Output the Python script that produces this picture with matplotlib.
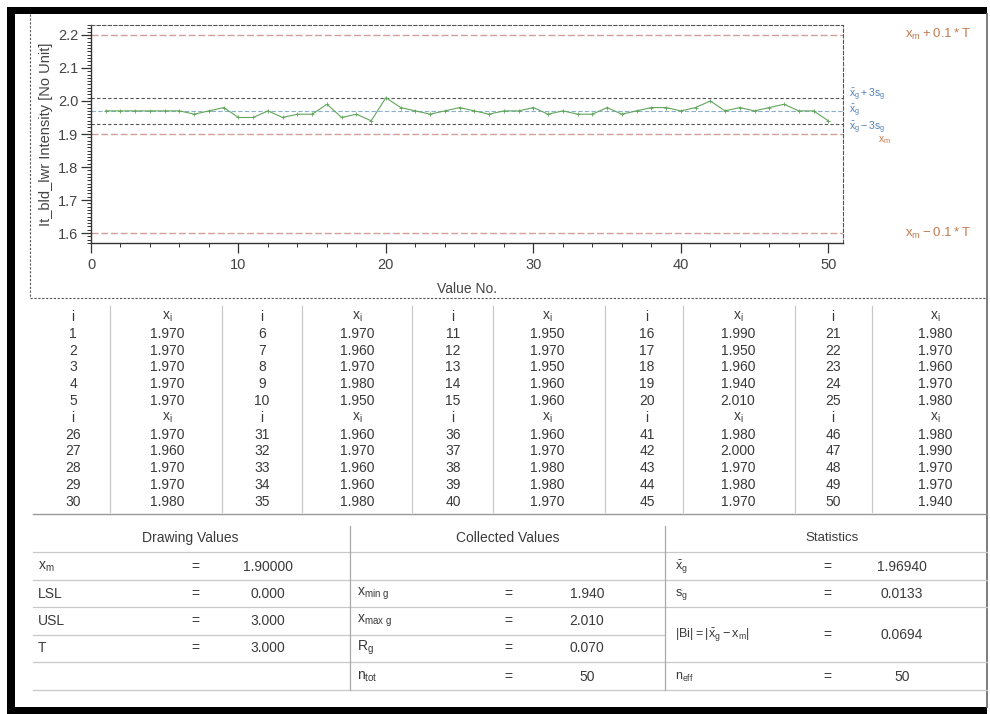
import numpy as np
import matplotlib.pyplot as plt
from matplotlib.patches import Rectangle
from matplotlib.ticker import MultipleLocator, FormatStrFormatter

plt.rcParams['font.family'] = ['Liberation Sans', 'DejaVu Sans']

# measured values, i = 1..50
values = [1.970, 1.970, 1.970, 1.970, 1.970,
          1.970, 1.960, 1.970, 1.980, 1.950,
          1.950, 1.970, 1.950, 1.960, 1.960,
          1.990, 1.950, 1.960, 1.940, 2.010,
          1.980, 1.970, 1.960, 1.970, 1.980,
          1.970, 1.960, 1.970, 1.970, 1.980,
          1.960, 1.970, 1.960, 1.960, 1.980,
          1.960, 1.970, 1.980, 1.980, 1.970,
          1.980, 2.000, 1.970, 1.980, 1.970,
          1.980, 1.990, 1.970, 1.970, 1.940]
value_no = np.arange(1, len(values) + 1)

# drawing values
xm = 1.9
lsl = 0.0
usl = 3.0
tol = 3.0

arr = np.array(values)
mean = arr.mean()
sd = arr.std(ddof=1)
ucl = mean + 3 * sd
lcl = mean - 3 * sd

W, H = 990, 714
fig = plt.figure(figsize=(W / 100, H / 100), dpi=100)

# overlay in pixel coordinates for frame + tables
ov = fig.add_axes([0, 0, 1, 1])
ov.set_xlim(0, W)
ov.set_ylim(H, 0)
ov.axis('off')


def px_rect(l, t, r, b):
    return [l / W, 1 - b / H, (r - l) / W, (b - t) / H]


ax = fig.add_axes(px_rect(91, 25, 843, 243))
ax.patch.set_alpha(0)

# limit lines
for y in [xm + 0.1 * tol, xm, xm - 0.1 * tol]:
    ax.axhline(y, color='#d0a09a', ls=(0, (5, 2)), lw=1.0)
for y in [ucl, lcl]:
    ax.axhline(y, color='#555555', ls=(0, (3, 2)), lw=0.8)
ax.axhline(mean, color='#8ab0cf', ls=(0, (4, 2)), lw=0.8)

ax.plot(value_no, values, color='#62a65c', lw=0.8, marker='+', ms=3, mew=0.6)

ax.set_xlim(0, 51)
ax.set_ylim(1.57, 2.23)
ax.xaxis.set_major_locator(MultipleLocator(10))
ax.xaxis.set_minor_locator(MultipleLocator(2))
ax.yaxis.set_major_locator(MultipleLocator(0.1))
ax.yaxis.set_minor_locator(MultipleLocator(0.01))
ax.yaxis.set_major_formatter(FormatStrFormatter('%.1f'))
ax.tick_params(which='major', direction='out', length=7, width=0.9,
               labelsize=10.5, labelcolor='#444444', color='#333333')
ax.tick_params(axis='x', which='major', pad=4)
ax.tick_params(axis='y', which='major', pad=2)
ax.tick_params(which='minor', direction='out', length=3, width=0.7, color='#333333')

for s in ['top', 'right']:
    ax.spines[s].set_linestyle((0, (3, 2)))
    ax.spines[s].set_color('#555555')
    ax.spines[s].set_linewidth(0.8)
for s in ['left', 'bottom']:
    ax.spines[s].set_color('#333333')
    ax.spines[s].set_linewidth(1.0)

ax.set_xlabel('Value No.', fontsize=10, color='#444444', labelpad=7)
ax.set_ylabel('It_bld_lwr Intensity [No Unit]', fontsize=10.5, color='#444444', labelpad=4)

blue = '#4f7fb5'
orange = '#c47a4e'
ax.text(51.4, ucl + 0.01, r'$\mathregular{\bar{x}_g+3s_g}$', color=blue, fontsize=7.5,
        va='center', clip_on=False)
ax.text(51.4, mean, r'$\mathregular{\bar{x}_g}$', color=blue, fontsize=7.5,
        va='center', clip_on=False)
ax.text(51.4, lcl - 0.01, r'$\mathregular{\bar{x}_g-3s_g}$', color=blue, fontsize=7.5,
        va='center', clip_on=False)
ax.text(53.4, xm - 0.018, r'$\mathregular{x_m}$', color=orange, fontsize=7.5,
        va='center', clip_on=False)
ax.text(55.2, xm + 0.1 * tol, r'$\mathregular{x_m + 0.1*T}$', color=orange, fontsize=9.5,
        va='center', clip_on=False)
ax.text(55.2, xm - 0.1 * tol, r'$\mathregular{x_m - 0.1*T}$', color=orange, fontsize=9.5,
        va='center', clip_on=False)

# outer frame of chart region
ov.plot([30, 30], [14, 298], color='#555555', ls=(0, (2, 1.5)), lw=0.8)
ov.plot([30, 987], [298, 298], color='#555555', ls=(0, (2, 1.5)), lw=0.8)

# black scan border
ov.add_patch(Rectangle((7, 7), 980, 7, color='black', lw=0))
ov.add_patch(Rectangle((7, 7), 8, 707, color='black', lw=0))
ov.add_patch(Rectangle((7, 707), 980, 7, color='black', lw=0))
ov.plot([987, 987], [14, 707], color='#666666', lw=1.2)

txt = '#3a3a3a'
grid = '#c8c8c8'

# data table
i_cols = [73, 262, 453, 647, 833]
x_cols = [167, 357, 547, 738, 935]
row_y0 = 317
row_dy = 16.8
for vx in [110, 222, 302, 412, 493, 605, 683, 795, 872]:
    ov.plot([vx, vx], [306, 512], color=grid, lw=0.9)
ov.plot([33, 987], [514, 514], color='#999999', lw=1.0)

for block in range(2):
    base_row = block * 6
    for g in range(5):
        ov.text(i_cols[g], row_y0 + base_row * row_dy, 'i', ha='center', va='center',
                fontsize=10, color=txt)
        ov.text(x_cols[g], row_y0 + base_row * row_dy, r'$\mathregular{x_i}$', ha='center',
                va='center', fontsize=10, color=txt)
        for k in range(5):
            idx = block * 25 + g * 5 + k
            y = row_y0 + (base_row + 1 + k) * row_dy
            ov.text(i_cols[g], y, str(value_no[idx]), ha='center', va='center',
                    fontsize=10, color=txt)
            ov.text(x_cols[g], y, f'{values[idx]:.3f}', ha='center', va='center',
                    fontsize=10, color=txt)

# summary tables
head_y = 538
rows_y = [567, 594, 621, 648, 677]
h_lines = [552, 580, 607, 635, 662, 690]
sections = [(33, 350), (350, 665), (665, 987)]
for k, (l, r) in enumerate(sections):
    for hy in h_lines:
        if k == 2 and hy == 635:
            continue
        ov.plot([l, r], [hy, hy], color=grid, lw=0.9)
for vx in [350, 665]:
    ov.plot([vx, vx], [526, 690], color='#aaaaaa', lw=0.9)

ov.text(190, head_y, 'Drawing Values', ha='center', va='center', fontsize=10, color=txt)
ov.text(508, head_y, 'Collected Values', ha='center', va='center', fontsize=10, color=txt)
ov.text(832, head_y, 'Statistics', ha='center', va='center', fontsize=9.5, color=txt)

drawing = [(r'$\mathregular{x_m}$', f'{xm:.5f}'), ('LSL', f'{lsl:.3f}'),
           ('USL', f'{usl:.3f}'), ('T', f'{tol:.3f}')]
for (lab, val), y in zip(drawing, rows_y):
    ov.text(38, y, lab, ha='left', va='center', fontsize=10, color=txt)
    ov.text(195, y, '=', ha='center', va='center', fontsize=10, color=txt)
    ov.text(268, y, val, ha='center', va='center', fontsize=10, color=txt)

collected = [(r'$\mathregular{x_{min\ g}}$', f'{arr.min():.3f}'),
             (r'$\mathregular{x_{max\ g}}$', f'{arr.max():.3f}'),
             (r'$\mathregular{R_g}$', f'{arr.max() - arr.min():.3f}'),
             (r'$\mathregular{n_{tot}}$', f'{len(values)}')]
for (lab, val), y in zip(collected, rows_y[1:]):
    ov.text(357, y, lab, ha='left', va='center', fontsize=10, color=txt)
    ov.text(508, y, '=', ha='center', va='center', fontsize=10, color=txt)
    ov.text(587, y, val, ha='center', va='center', fontsize=10, color=txt)

stats = [(r'$\mathregular{\bar{x}_g}$', f'{mean:.5f}', 567),
         (r'$\mathregular{s_g}$', f'{sd:.4f}', 594),
         (r'$\mathregular{|Bi| = |\bar{x}_g - x_m|}$', f'{abs(mean - xm):.4f}', 635),
         (r'$\mathregular{n_{eff}}$', f'{len(values)}', 677)]
for lab, val, y in stats:
    ov.text(675, y, lab, ha='left', va='center', fontsize=9, color=txt)
    ov.text(827, y, '=', ha='center', va='center', fontsize=10, color=txt)
    ov.text(902, y, val, ha='center', va='center', fontsize=10, color=txt)

fig.savefig('out.png', dpi=100)
